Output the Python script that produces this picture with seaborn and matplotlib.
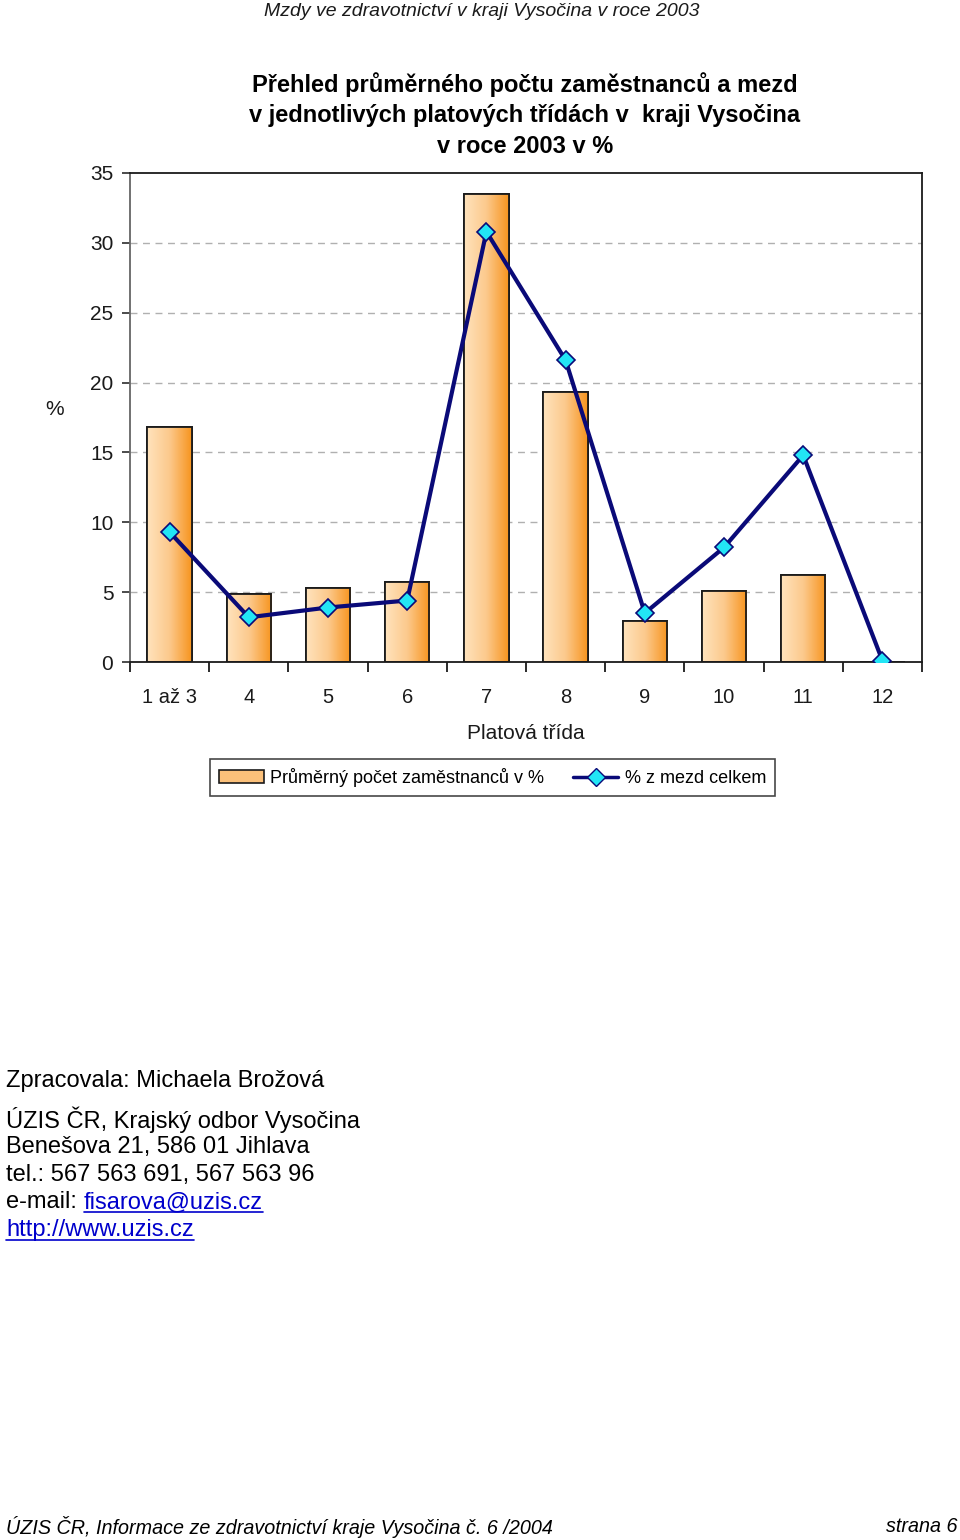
import numpy as np
import pandas as pd
import matplotlib
matplotlib.use("Agg")
import matplotlib.pyplot as plt
import seaborn as sns
from matplotlib.colors import LinearSegmentedColormap
from matplotlib.patches import Rectangle
from matplotlib.lines import Line2D

# data
tridy = ["1 až 3", "4", "5", "6", "7", "8", "9", "10", "11", "12"]
zamestnanci = [16.8, 4.9, 5.3, 5.7, 33.5, 19.3, 2.9, 5.1, 6.2, 0.0]
mzdy = [9.3, 3.2, 3.9, 4.4, 30.8, 21.6, 3.5, 8.2, 14.8, 0.1]
y_ticks = [0, 5, 10, 15, 20, 25, 30, 35]

sns.set_theme(style="white")
plt.rcParams['font.family'] = ['Liberation Sans', 'DejaVu Sans']
plt.rcParams['text.color'] = 'black'

fig = plt.figure(figsize=(9.6, 15.4), dpi=100)
ax = fig.add_axes([130/960, 1-662/1540, 792/960, 489/1540])

df = pd.DataFrame({"trida": tridy, "zam": zamestnanci})
sns.barplot(data=df, x="trida", y="zam", ax=ax, width=0.56,
            color="#FBC07A", edgecolor="#1a1a1a", linewidth=1.3, zorder=2)

# horizontal gradient inside each bar
grad = LinearSegmentedColormap.from_list("oranz", ["#FFE3BD", "#FCC98C", "#F7941E"])
g = np.linspace(0, 1, 256).reshape(1, -1)
for p in list(ax.patches):
    x0, y0 = p.get_x(), p.get_y()
    w, h = p.get_width(), p.get_height()
    if h <= 0:
        continue
    im = ax.imshow(g, cmap=grad, aspect="auto", extent=[x0, x0 + w, y0, y0 + h],
                   zorder=2.1, interpolation="bicubic")
    im.set_clip_path(p)
    ax.add_patch(Rectangle((x0, y0), w, h, fill=False, edgecolor="#1a1a1a",
                           linewidth=1.3, zorder=2.2))

sns.lineplot(x=np.arange(len(tridy)), y=mzdy, ax=ax, color="#0A0A78", linewidth=3,
             marker="D", markersize=9, markerfacecolor="#22E5F5",
             markeredgecolor="#0A0A78", markeredgewidth=1.2, zorder=4)

ax.set_xlim(-0.5, len(tridy) - 0.5)
ax.set_ylim(0, 35)
ax.set_yticks(y_ticks)
ax.set_xticks(np.arange(len(tridy)))
ax.set_xticklabels(tridy)
ax.set_xticks(np.arange(-0.5, len(tridy), 1), minor=True)
for yv in y_ticks[1:-1]:
    ax.axhline(yv, color="#b0b0b0", linestyle=(0, (5, 4)), linewidth=1, zorder=1)

ax.tick_params(axis="x", which="major", length=0, pad=19, labelsize=14.5, colors="#1a1a1a")
ax.tick_params(axis="x", which="minor", bottom=True, length=7, width=1.3, color="#1a1a1a")
ax.tick_params(axis="y", left=True, length=6, width=1.1, pad=6, labelsize=15, colors="#1a1a1a")
for s in ax.spines.values():
    s.set_visible(True)
    s.set_color("#1a1a1a")
    s.set_linewidth(1.3)
ax.spines["left"].set_color("#666666")

ax.set_xlabel("Platová třída", fontsize=15, labelpad=12, color="#1a1a1a")
ax.set_ylabel("")
fig.text(55/960, 1-410/1540, "%", fontsize=15, ha="center", va="center", color="#1a1a1a")

handles = [Rectangle((0, 0), 1, 1, facecolor="#FBC07A", edgecolor="#1a1a1a", linewidth=1.2),
           Line2D([], [], color="#0A0A78", linewidth=2.5, marker="D", markersize=9,
                  markerfacecolor="#22E5F5", markeredgecolor="#0A0A78")]
leg = fig.legend(handles, ["Průměrný počet zaměstnanců v %", "% z mezd celkem"],
                 loc="center", bbox_to_anchor=(492.5/960, 1-777.5/1540), ncol=2,
                 fontsize=13, frameon=True, fancybox=False, edgecolor="#1a1a1a",
                 handlelength=2.5, handletextpad=0.35, columnspacing=1.6, borderpad=0.5)
leg.get_frame().set_linewidth(1.2)

# page texts
fig.text(482/960, 1-11/1540, "Mzdy ve zdravotnictví v kraji Vysočina v roce 2003",
         fontsize=14, style="italic", ha="center", va="center", color="#1a1a1a")
fig.text(525/960, 1-115/1540,
         "Přehled průměrného počtu zaměstnanců a mezd\nv jednotlivých platových třídách v  kraji Vysočina\nv roce 2003 v %",
         fontsize=17, fontweight="bold", ha="center", va="center", linespacing=1.42)

fs = 17
fig.text(6/960, 1-1081/1540, "Zpracovala: Michaela Brožová", fontsize=fs, va="center")
lines = ["ÚZIS ČR, Krajský odbor Vysočina", "Benešova 21, 586 01 Jihlava",
         "tel.: 567 563 691, 567 563 96"]
for i, t in enumerate(lines):
    fig.text(6/960, 1-(1120 + 27.5*i)/1540, t, fontsize=fs, va="center")
t1 = fig.text(6/960, 1-1202/1540, "e-mail: ", fontsize=fs, va="center")
fig.canvas.draw()
r = fig.canvas.get_renderer()
bb = t1.get_window_extent(r)
t2 = fig.text(bb.x1/960, 1-1202/1540, "fisarova@uzis.cz", fontsize=fs, va="center", color="#0000CC")
t3 = fig.text(6/960, 1-1230/1540, "http://www.uzis.cz", fontsize=fs, va="center", color="#0000CC")
fig.canvas.draw()
for t in (t2, t3):
    b = t.get_window_extent(r)
    fig.add_artist(Line2D([b.x0/960, b.x1/960], [(b.y0 + 1)/1540]*2, color="#0000CC", linewidth=1.2))

fig.text(6/960, 1-1527/1540, "ÚZIS ČR, Informace ze zdravotnictví kraje Vysočina č. 6 /2004",
         fontsize=14.2, style="italic", va="center")
fig.text(958/960, 1-1527/1540, "strana 6", fontsize=14.2, style="italic", va="center", ha="right")

fig.savefig("out.png", dpi=100, facecolor="white")
